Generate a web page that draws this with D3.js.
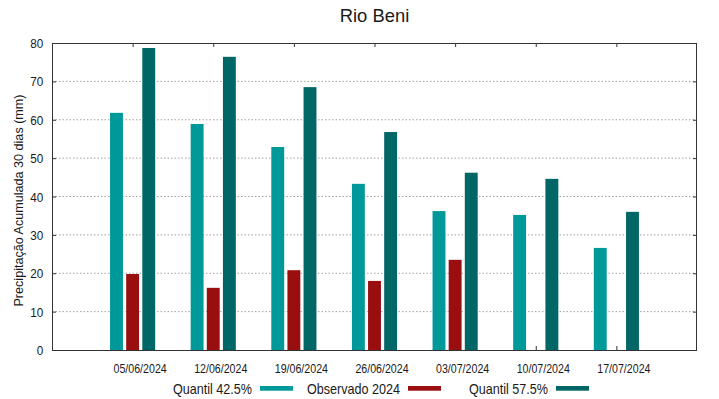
<!DOCTYPE html>
<html><head><meta charset="utf-8">
<script src="https://cdn.jsdelivr.net/npm/d3@7"></script>
<style>
body{margin:0;background:#fff}
svg{display:block}
text{font-family:"Liberation Sans",Arial,Helvetica,sans-serif;fill:#1a1a1a}
</style>
</head><body>
<svg id="chart" width="719" height="399"></svg>
<script>
const title = "Rio Beni";
const yLabel = "Precipitação Acumulada 30 dias (mm)";
const dates = ["05/06/2024","12/06/2024","19/06/2024","26/06/2024","03/07/2024","10/07/2024","17/07/2024"];
const quantil425 = [61.8, 58.9, 52.9, 43.3, 36.2, 35.2, 26.6];
const observado2024 = [19.8, 16.2, 20.8, 18.0, 23.5, null, null];
const quantil575 = [78.7, 76.4, 68.5, 56.8, 46.2, 44.6, 36.0];
const yTicks = [0, 10, 20, 30, 40, 50, 60, 70, 80];
const seriesNames = ["Quantil 42.5%", "Observado 2024", "Quantil 57.5%"];
const seriesColors = ["#009999", "#990f0f", "#006666"];

const series = [quantil425, observado2024, quantil575];
const offsets = [-0.2, 0, 0.2];
const barW = 0.16;

const svg = d3.select("#chart");
const L = 52, R = 697, T = 43, B = 350;
const x = d3.scaleLinear().domain([0, dates.length + 1]).range([L, R]);
const y = d3.scaleLinear().domain([0, 80]).range([B, T]);

// grid
svg.append("g").selectAll("line")
  .data(yTicks.filter(v => v > 0 && v < 80))
  .join("line")
  .attr("x1", L).attr("x2", R)
  .attr("y1", d => y(d)).attr("y2", d => y(d))
  .attr("stroke", "#a0a0a0").attr("stroke-width", 1)
  .attr("stroke-dasharray", "1.5,2");

// bottom axis (inward ticks)
const xAxis = d3.axisBottom(x)
  .tickValues(dates.map((d, i) => i + 1))
  .tickFormat(v => dates[v - 1])
  .tickSizeInner(-4).tickSizeOuter(0);
const gx = svg.append("g").attr("transform", `translate(0,${B})`).call(xAxis);
gx.select(".domain").remove();
gx.selectAll("line").attr("stroke", "#333");
gx.selectAll("text")
  .attr("y", null).attr("dy", null)
  .attr("transform", "translate(7,22.7) scale(0.85,1)")
  .attr("font-size", "12.5px")
  .attr("fill", "#1a1a1a");

// top axis mirror ticks
const xTop = d3.axisTop(x)
  .tickValues(dates.map((d, i) => i + 1))
  .tickFormat("")
  .tickSizeInner(-4).tickSizeOuter(0);
const gxt = svg.append("g").attr("transform", `translate(0,${T})`).call(xTop);
gxt.select(".domain").remove();
gxt.selectAll("line").attr("stroke", "#333");

// left axis
const yAxis = d3.axisLeft(y).tickValues(yTicks).tickSizeInner(-4).tickSizeOuter(0);
const gy = svg.append("g").attr("transform", `translate(${L},0)`).call(yAxis);
gy.select(".domain").remove();
gy.selectAll("line").attr("stroke", "#333");
gy.selectAll("text")
  .attr("x", null).attr("dy", null)
  .attr("text-anchor", "end")
  .attr("transform", "translate(-8.7,4.5) scale(0.9,1)")
  .attr("font-size", "13px")
  .attr("fill", "#1a1a1a");

// right axis mirror ticks
const yRight = d3.axisRight(y).tickValues(yTicks).tickFormat("").tickSizeInner(-4).tickSizeOuter(0);
const gyr = svg.append("g").attr("transform", `translate(${R},0)`).call(yRight);
gyr.select(".domain").remove();
gyr.selectAll("line").attr("stroke", "#333");

// bars
series.forEach((vals, s) => {
  svg.append("g").selectAll("rect")
    .data(vals.map((v, i) => ({v, i})).filter(d => d.v != null))
    .join("rect")
    .attr("x", d => x(d.i + 1 + offsets[s] - barW / 2))
    .attr("width", d => x(d.i + 1 + offsets[s] + barW / 2) - x(d.i + 1 + offsets[s] - barW / 2))
    .attr("y", d => y(d.v))
    .attr("height", d => y(0) - y(d.v))
    .attr("fill", seriesColors[s]);
});

// border
svg.append("rect")
  .attr("x", L + 0.5).attr("y", T + 0.5)
  .attr("width", R - L - 1).attr("height", B - T)
  .attr("fill", "none").attr("stroke", "#333").attr("stroke-width", 1);

// title
svg.append("text")
  .attr("transform", `translate(${(L + R) / 2},21.7) scale(0.97,1)`)
  .attr("text-anchor", "middle")
  .attr("font-size", "19px")
  .text(title);

// y label
svg.append("text")
  .attr("transform", `translate(23,${(T + B) / 2 + 4}) rotate(-90)`)
  .attr("text-anchor", "middle")
  .attr("font-size", "12.6px")
  .text(yLabel);

// legend
const legendSwatchX = [260, 408, 556];
seriesNames.forEach((name, s) => {
  const sx = legendSwatchX[s];
  svg.append("text")
    .attr("transform", `translate(${sx - 8},394) scale(0.9,1)`)
    .attr("text-anchor", "end")
    .attr("font-size", "14px")
    .text(name);
  svg.append("rect")
    .attr("x", sx).attr("y", 386)
    .attr("width", 33).attr("height", 4.7)
    .attr("fill", seriesColors[s]);
});
</script>
</body></html>
